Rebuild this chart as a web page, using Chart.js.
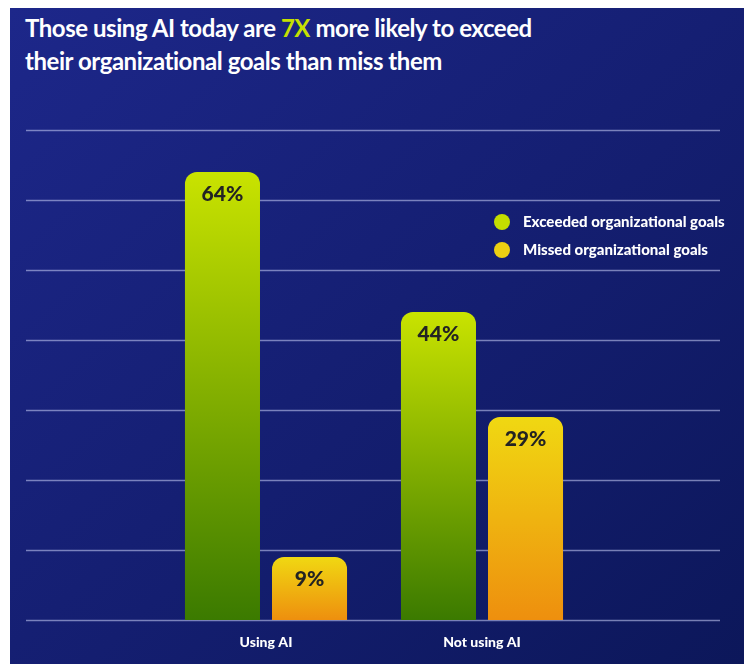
<!DOCTYPE html>
<html>
<head>
<meta charset="utf-8">
<script src="https://cdn.jsdelivr.net/npm/chart.js@4/dist/chart.umd.min.js"></script>
<style>
  html, body { margin: 0; padding: 0; background: #fff; }
  .panel {
    position: absolute; left: 10px; top: 8px; width: 734px; height: 656px;
    background: linear-gradient(to bottom right, #1d278a 0%, #141e70 55%, #0c175a 100%);
  }
  .title {
    position: absolute; left: 25px; top: 11px; margin: 0;
    font-family: Lato, sans-serif; font-weight: 700; font-size: 24px; line-height: 33px;
    color: #fff; letter-spacing: -0.45px;
  }
  .title span { color: #c6e000; }
  .wrap { position: absolute; left: 0; top: 0; width: 744px; height: 664px; }
</style>
</head>
<body>
<div class="panel"></div>
<h1 class="title">Those using AI today are <span>7X</span> more likely to exceed<br>their organizational goals than miss them</h1>
<div class="wrap"><canvas class="myChart"></canvas></div>
<script>
const groups = ["Using AI", "Not using AI"];
const seriesNames = ["Exceeded organizational goals", "Missed organizational goals"];
const exceeded = [64, 44];
const missed = [9, 29];
const yTicks = [0, 10, 20, 30, 40, 50, 60, 70];

const greenTop = "#c9e300", greenBottom = "#3b7a00";
const yellowTop = "#f0d812", yellowBottom = "#ee8f0e";

// vertical gradient from the top of each bar down to the baseline
function barFill(top, bottom) {
  return (ctx) => {
    const chart = ctx.chart;
    const y = chart.scales.y;
    if (!chart.chartArea || !y || ctx.raw == null) return top;
    const g = chart.ctx.createLinearGradient(0, y.getPixelForValue(ctx.raw), 0, y.getPixelForValue(0));
    g.addColorStop(0, top);
    g.addColorStop(1, bottom);
    return g;
  };
}

// long gridlines that run under the legend as well
const wideGrid = {
  id: "wideGrid",
  beforeDatasetsDraw(chart) {
    const c = chart.ctx, y = chart.scales.y;
    c.save();
    c.strokeStyle = "rgba(190, 196, 238, 0.6)";
    c.lineWidth = 1.5;
    yTicks.forEach(v => {
      const py = Math.round(y.getPixelForValue(v)) + 0.5;
      c.beginPath();
      c.moveTo(26, py);
      c.lineTo(720, py);
      c.stroke();
    });
    c.restore();
  }
};

// percentage printed inside the top of every bar
const barLabels = {
  id: "barLabels",
  afterDatasetsDraw(chart) {
    const c = chart.ctx;
    c.save();
    c.font = "900 21px Lato, sans-serif";
    c.fillStyle = "#232323";
    c.textAlign = "center";
    c.textBaseline = "middle";
    chart.data.datasets.forEach((ds, i) => {
      chart.getDatasetMeta(i).data.forEach((bar, j) => {
        c.fillText(ds.data[j] + "%", bar.x, bar.y + 22);
      });
    });
    c.restore();
  }
};

// legend with round markers on the right side
const sideLegend = {
  id: "sideLegend",
  afterDraw(chart) {
    const c = chart.ctx;
    c.save();
    c.font = "900 15px Lato, sans-serif";
    c.textBaseline = "middle";
    chart.data.datasets.forEach((ds, i) => {
      const y = 222 + i * 28;
      c.fillStyle = ds.legendColor;
      c.beginPath();
      c.arc(502, y, 8, 0, Math.PI * 2);
      c.fill();
      c.fillStyle = "#fff";
      c.fillText(ds.label, 523, y);
    });
    c.restore();
  }
};

new Chart(document.querySelector(".myChart").getContext("2d"), {
  type: "bar",
  data: {
    labels: groups,
    datasets: [{
      label: seriesNames[0],
      data: exceeded,
      backgroundColor: barFill(greenTop, greenBottom),
      legendColor: "#c4de00"
    }, {
      label: seriesNames[1],
      data: missed,
      backgroundColor: barFill(yellowTop, yellowBottom),
      legendColor: "#ecd012"
    }]
  },
  options: {
    responsive: true,
    maintainAspectRatio: false,
    animation: false,
    layout: { padding: { left: 158, right: 154, top: 130, bottom: 0 } },
    datasets: {
      bar: {
        categoryPercentage: 0.806,
        barPercentage: 0.862,
        borderRadius: 12,
        borderSkipped: "start"
      }
    },
    scales: {
      x: {
        grid: { display: false },
        border: { display: false },
        ticks: {
          color: "#fff",
          padding: 6,
          font: { family: "Lato, sans-serif", size: 14, weight: "900" }
        },
        afterFit(s) { s.height = 44; }
      },
      y: {
        display: false,
        min: 0,
        max: 70,
        ticks: { stepSize: 10 }
      }
    },
    plugins: {
      legend: { display: false },
      tooltip: { enabled: false }
    }
  },
  plugins: [wideGrid, barLabels, sideLegend]
});
</script>
</body>
</html>
